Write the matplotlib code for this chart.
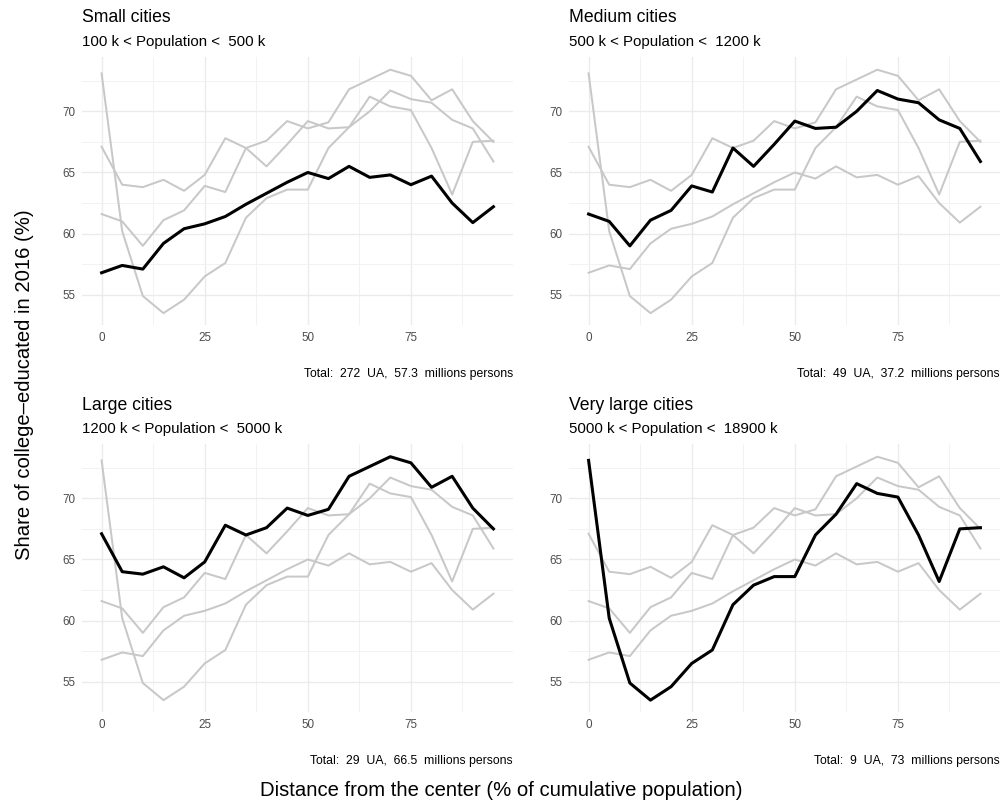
import matplotlib
matplotlib.use("Agg")
import matplotlib.pyplot as plt
from matplotlib import font_manager
from matplotlib.ticker import MultipleLocator

# pick the regular (not narrow) Liberation Sans file
reg = [f.fname for f in font_manager.fontManager.ttflist
       if 'LiberationSans-Regular' in f.fname]
if reg:
    fp = font_manager.FontProperties(fname=reg[0])
else:
    fp = font_manager.FontProperties(family='DejaVu Sans')

dist = [0, 5, 10, 15, 20, 25, 30, 35, 40, 45, 50, 55, 60, 65, 70, 75, 80, 85, 90, 95]

small = [56.8, 57.4, 57.1, 59.2, 60.4, 60.8, 61.4, 62.4, 63.3, 64.2, 65.0, 64.5, 65.5, 64.6, 64.8, 64.0, 64.7, 62.5, 60.9, 62.2]
medium = [61.6, 61.0, 59.0, 61.1, 61.9, 63.9, 63.4, 67.0, 65.5, 67.3, 69.2, 68.6, 68.7, 70.0, 71.7, 71.0, 70.7, 69.3, 68.6, 65.9]
large = [67.1, 64.0, 63.8, 64.4, 63.5, 64.8, 67.8, 67.0, 67.6, 69.2, 68.6, 69.1, 71.8, 72.6, 73.4, 72.9, 70.9, 71.8, 69.2, 67.5]
very_large = [73.1, 60.2, 54.9, 53.5, 54.6, 56.5, 57.6, 61.3, 62.9, 63.6, 63.6, 67.0, 68.7, 71.2, 70.4, 70.1, 67.0, 63.2, 67.5, 67.6]

series = [small, medium, large, very_large]
titles = ["Small cities", "Medium cities", "Large cities", "Very large cities"]
subtitles = ["100 k < Population <  500 k", "500 k < Population <  1200 k",
             "1200 k < Population <  5000 k", "5000 k < Population <  18900 k"]
captions = ["Total:  272  UA,  57.3  millions persons", "Total:  49  UA,  37.2  millions persons",
            "Total:  29  UA,  66.5  millions persons", "Total:  9  UA,  73  millions persons"]

W, H = 1004, 808
fig = plt.figure(figsize=(W / 100, H / 100), dpi=100)


def font(size):
    f = fp.copy()
    f.set_size(size)
    return f


# panel boxes in pixels: left, right, top, bottom
boxes = [(82, 513, 57, 325), (569, 1000, 57, 325),
         (82, 513, 444, 712), (569, 1000, 444, 712)]

for i, (l, r, t, b) in enumerate(boxes):
    ax = fig.add_axes([l / W, 1 - b / H, (r - l) / W, (b - t) / H])
    for j, s in enumerate(series):
        if j != i:
            ax.plot(dist, s, color='#C8C8C8', lw=1.45, zorder=2)
    ax.plot(dist, series[i], color='black', lw=2.2, zorder=3)

    ax.set_xlim(-4.75, 99.75)
    ax.set_ylim(52.53, 74.44)
    ax.set_xticks([0, 25, 50, 75])
    ax.set_yticks([55, 60, 65, 70])
    ax.xaxis.set_minor_locator(MultipleLocator(12.5))
    ax.yaxis.set_minor_locator(MultipleLocator(2.5))
    ax.grid(which='major', color='#EBEBEB', lw=1.0, zorder=0)
    ax.grid(which='minor', color='#F2F2F2', lw=0.7, zorder=0)
    for sp in ax.spines.values():
        sp.set_visible(False)
    ax.tick_params(which='both', length=0, labelcolor='#4D4D4D', pad=5)
    for lab in ax.get_xticklabels() + ax.get_yticklabels():
        lab.set_fontproperties(font(8.4))

    fig.text(l / W, 1 - (t - 39) / H, titles[i], fontproperties=font(12.7), va='center', ha='left')
    fig.text(l / W, 1 - (t - 15) / H, subtitles[i], fontproperties=font(10.8), va='center', ha='left')
    fig.text(r / W, 1 - (b + 49) / H, captions[i], fontproperties=font(8.8), va='center', ha='right')

fig.text(25 / W, 1 - 385 / H, "Share of college\u2013educated in 2016 (%)", rotation=90,
         fontproperties=font(14.6), va='center', ha='center')
fig.text(501 / W, 1 - 791 / H, "Distance from the center (% of cumulative population)",
         fontproperties=font(14.6), va='center', ha='center')

fig.savefig("out.png", dpi=100, facecolor='white')
